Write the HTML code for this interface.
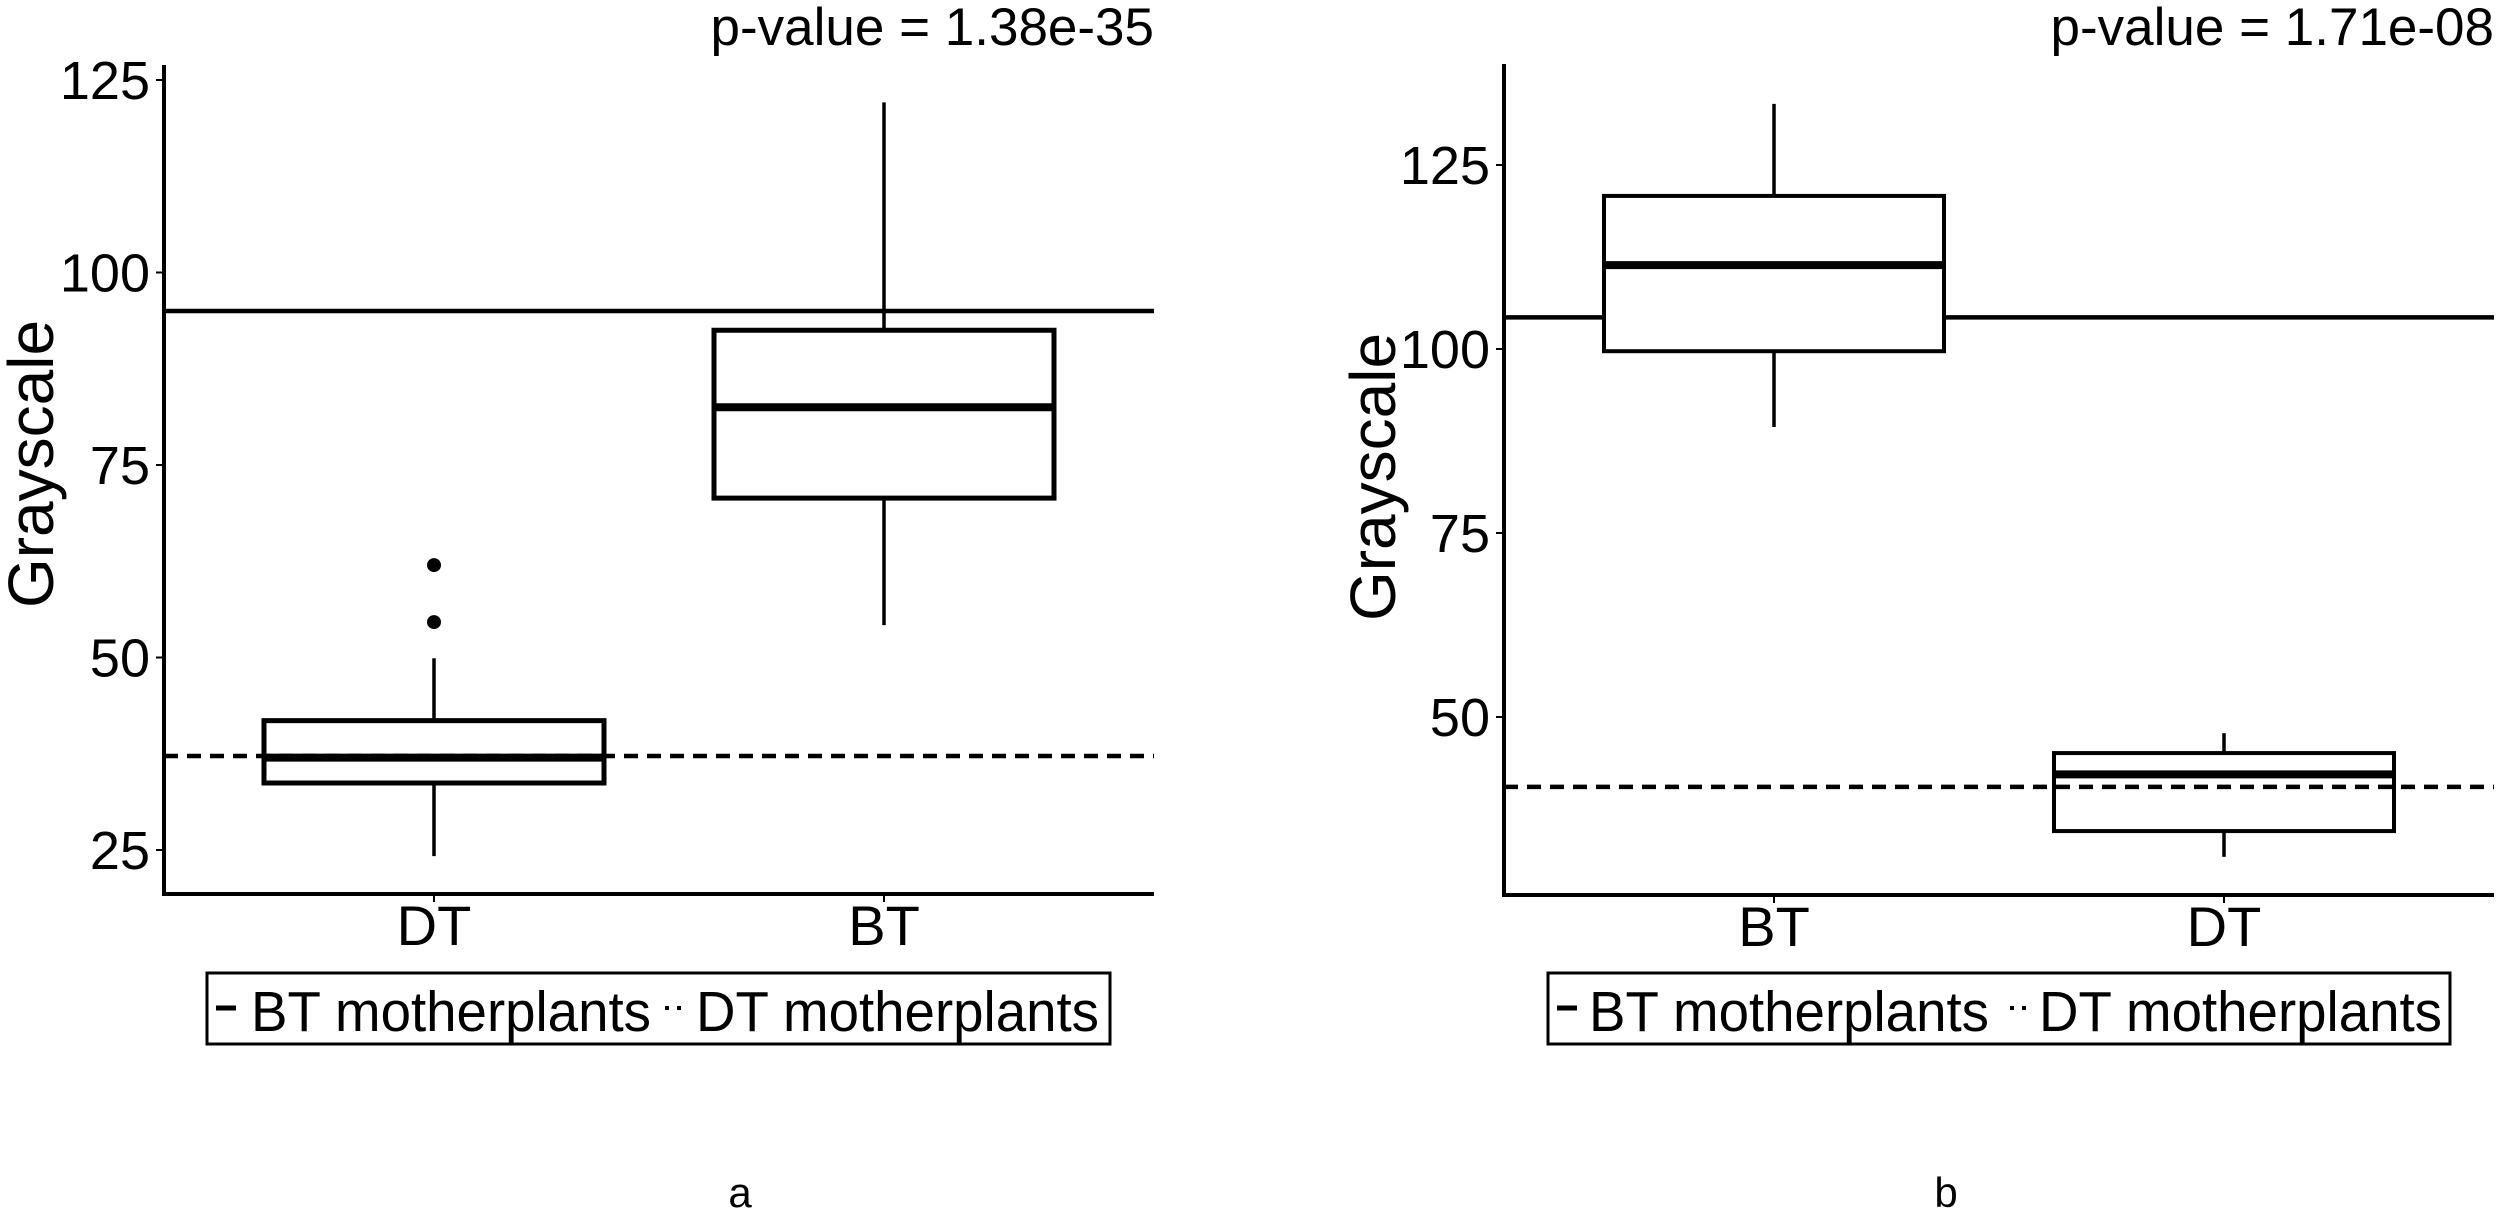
<!DOCTYPE html>
<html><head><meta charset="utf-8"><style>
html,body{margin:0;padding:0;background:#fff;}
svg{display:block;}
text{font-family:"Liberation Sans",sans-serif;fill:#000;}
</style></head><body>
<svg id="chart" width="2500" height="1213" viewBox="0 0 2500 1213" xmlns="http://www.w3.org/2000/svg">
<rect x="0" y="0" width="2500" height="1213" fill="#fff"/>
</svg>
<script>
// Panel a data
const catsA = ["DT", "BT"];
const q1A = [33.7, 70.7];
const medA = [37.0, 82.5];
const q3A = [41.8, 92.5];
const loA = [24.2, 54.2];
const hiA = [49.9, 122.1];
const outliersA = [[62.0, 54.6], []];
const refSolidA = 95.0;
const refDashA = 37.2;
const ticksA = [25, 50, 75, 100, 125];
const pA = "p-value = 1.38e-35";
// Panel b data
const catsB = ["BT", "DT"];
const q1B = [99.7, 34.5];
const medB = [111.4, 42.2];
const q3B = [120.8, 45.1];
const loB = [89.4, 31.0];
const hiB = [133.3, 47.8];
const outliersB = [[], []];
const refSolidB = 104.3;
const refDashB = 40.5;
const ticksB = [50, 75, 100, 125];
const pB = "p-value = 1.71e-08";

const NS = "http://www.w3.org/2000/svg";
const svg = document.getElementById("chart");
function mk(tag, attrs, parent) {
  const e = document.createElementNS(NS, tag);
  for (const k in attrs) e.setAttribute(k, attrs[k]);
  (parent || svg).appendChild(e);
  return e;
}

function panel(cfg) {
  const g = mk("g", {});
  
  
  const y = v => cfg.y0 - (v - cfg.v0) * cfg.k;
  const x = i => cfg.xAxis + cfg.step * (0.6 + i);
  const xEnd = cfg.xAxis + cfg.step * (cfg.cats.length - 1 + 1.2);
  const half = 170;

  // reference lines
  const sl = mk("line", {x1: cfg.xAxis, x2: xEnd, y1: y(cfg.refSolid), y2: y(cfg.refSolid), stroke: "#000", "stroke-width": 4.5}, g);
  
  

  // boxes
  cfg.cats.forEach((c, i) => {
    const bg = mk("g", {}, g);
    
    
    const cx = x(i);
    mk("line", {x1: cx, x2: cx, y1: y(cfg.hi[i]), y2: y(cfg.q3[i]), stroke: "#000", "stroke-width": 3.5}, bg);
    mk("line", {x1: cx, x2: cx, y1: y(cfg.q1[i]), y2: y(cfg.lo[i]), stroke: "#000", "stroke-width": 3.5}, bg);
    mk("rect", {x: cx - half, y: y(cfg.q3[i]), width: 2 * half, height: y(cfg.q1[i]) - y(cfg.q3[i]), fill: "#fff", stroke: "#000", "stroke-width": cfg.bw}, bg);
    mk("line", {x1: cx - half, x2: cx + half, y1: y(cfg.med[i]), y2: y(cfg.med[i]), stroke: "#000", "stroke-width": 8}, bg);
    cfg.out[i].forEach(v => {
      const o = mk("circle", {cx: cx, cy: y(v), r: 7, fill: "#000"}, bg);
      
      
    });
  });

  const dl = mk("line", {x1: cfg.xAxis, x2: xEnd, y1: y(cfg.refDash), y2: y(cfg.refDash), stroke: "#000", "stroke-width": 4.5, "stroke-dasharray": "14 9"}, g);
  
  

  // axes
  const ya = mk("line", {x1: cfg.xAxis, x2: cfg.xAxis, y1: cfg.top, y2: cfg.bottom + 2, stroke: "#000", "stroke-width": 4}, g);
  
  
  const xa = mk("line", {x1: cfg.xAxis - 2, x2: xEnd, y1: cfg.bottom, y2: cfg.bottom, stroke: "#000", "stroke-width": 4}, g);
  
  

  cfg.ticks.forEach(t => {
    mk("line", {x1: cfg.xAxis - 8, x2: cfg.xAxis, y1: y(t), y2: y(t), stroke: "#000", "stroke-width": 2}, g);
    const tl = mk("text", {x: cfg.xAxis - 14, y: y(t) + 19, "text-anchor": "end", "font-size": 54}, g);
    tl.textContent = t;
    
    
  });
  cfg.cats.forEach((c, i) => {
    mk("line", {x1: x(i), x2: x(i), y1: cfg.bottom, y2: cfg.bottom + 8, stroke: "#000", "stroke-width": 2}, g);
    const xl = mk("text", {x: x(i), y: cfg.bottom + 51, "text-anchor": "middle", "font-size": 56}, g);
    xl.textContent = c;
    
    
  });

  const yt = mk("text", {x: 0, y: 0, "text-anchor": "middle", "font-size": 64, transform: `translate(${cfg.titleX},${cfg.titleY}) rotate(-90)`}, g);
  yt.textContent = "Grayscale";
  
  

  const pv = mk("text", {x: xEnd, y: 45, "text-anchor": "end", "font-size": 53}, g);
  pv.textContent = cfg.p;
  
  

  // legend
  const L = cfg.leg;
  const lg = mk("g", {}, g);
  
  
  mk("rect", {x: L.x0, y: 973, width: L.x1 - L.x0, height: 71, fill: "#fff", stroke: "#000", "stroke-width": 3}, lg);
  const k1 = mk("line", {x1: L.k1, x2: L.k1 + 20, y1: 1008, y2: 1008, stroke: "#000", "stroke-width": 5}, lg);
  
  
  const t1 = mk("text", {x: L.t1, y: 1031, "font-size": 57, textLength: 400, lengthAdjust: "spacingAndGlyphs"}, lg);
  t1.textContent = "BT motherplants";
  
  
  const k2 = mk("line", {x1: L.k2, x2: L.k2 + 20, y1: 1008, y2: 1008, stroke: "#000", "stroke-width": 4, "stroke-dasharray": "4 8"}, lg);
  
  
  const t2 = mk("text", {x: L.t2, y: 1031, "font-size": 57, textLength: 403, lengthAdjust: "spacingAndGlyphs"}, lg);
  t2.textContent = "DT motherplants";
  
  

  const pl = mk("text", {x: cfg.labelX, y: 1207, "text-anchor": "middle", "font-size": 42, "font-family": "DejaVu Sans, sans-serif"}, g);
  pl.textContent = cfg.label;
  
  
}

panel({name: "panel-a", cats: catsA, q1: q1A, med: medA, q3: q3A, lo: loA, hi: hiA, out: outliersA,
  refSolid: refSolidA, refDash: refDashA, ticks: ticksA, p: pA,
  xAxis: 164, step: 450, y0: 850, v0: 25, k: 7.7, top: 65, bottom: 894, bw: 5,
  titleX: 53, titleY: 464, leg: {x0: 207, x1: 1110, k1: 216, t1: 251, k2: 665, t2: 696}, labelX: 740, label: "a"});
panel({name: "panel-b", cats: catsB, q1: q1B, med: medB, q3: q3B, lo: loB, hi: hiB, out: outliersB,
  refSolid: refSolidB, refDash: refDashB, ticks: ticksB, p: pB,
  xAxis: 1504, step: 450, y0: 717, v0: 50, k: 7.36, top: 64, bottom: 895, bw: 4,
  titleX: 1395, titleY: 477, leg: {x0: 1548, x1: 2450, k1: 1557, t1: 1589, k2: 2010, t2: 2039}, labelX: 1946, label: "b"});
</script>
</body></html>
